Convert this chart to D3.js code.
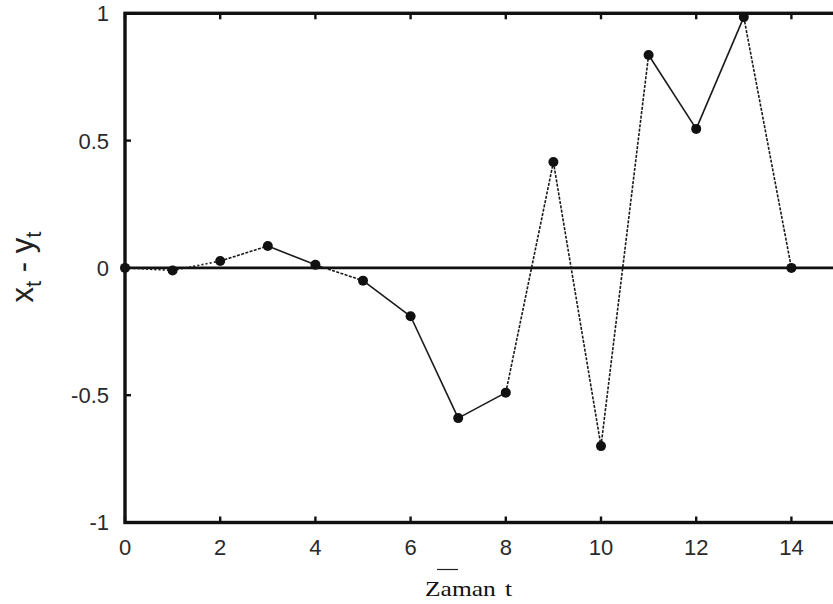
<!DOCTYPE html>
<html>
<head>
<meta charset="utf-8">
<script src="https://cdn.jsdelivr.net/npm/d3@7/dist/d3.min.js"></script>
<style>
  html, body { margin: 0; padding: 0; background: #fff; overflow: hidden; }
  svg { display: block; }
</style>
</head>
<body>
<script>
// Time steps and the difference x_t - y_t at each step
const times = [0, 1, 2, 3, 4, 5, 6, 7, 8, 9, 10, 11, 12, 13, 14];
const diffs = [0, -0.01, 0.027, 0.086, 0.012, -0.05, -0.19, -0.59, -0.49, 0.416, -0.70, 0.836, 0.546, 0.985, 0];
// Stroke style of each segment joining consecutive points
const segStyles = ["dot", "dot", "dash", "solid", "dash", "solid", "solid", "solid",
                   "dash", "dash", "dash", "solid", "solid", "dash"];
const xTicks = [0, 2, 4, 6, 8, 10, 12, 14];
const yTicks = [-1, -0.5, 0, 0.5, 1];

const W = 833, H = 604;
const svg = d3.select("body").append("svg").attr("width", W).attr("height", H);

const x = d3.scaleLinear().domain([0, 15]).range([125, 839]);
const y = d3.scaleLinear().domain([-1, 1]).range([522.5, 13.3]);

const ink = "#111";
const labelFont = "'Liberation Sans', Arial, Helvetica, sans-serif";

// Zero reference line
svg.append("line")
  .attr("x1", x(0)).attr("x2", x(15))
  .attr("y1", y(0)).attr("y2", y(0))
  .attr("stroke", ink).attr("stroke-width", 2.6);

// Series segments
const dashFor = { solid: null, dash: "3,1.4", dot: "2,2.2" };
const segs = d3.pairs(times.map((t, i) => ({ t, v: diffs[i] })))
  .map((p, i) => ({ a: p[0], b: p[1], s: segStyles[i] }));
svg.append("g").selectAll("line").data(segs).join("line")
  .attr("x1", d => x(d.a.t)).attr("y1", d => y(d.a.v))
  .attr("x2", d => x(d.b.t)).attr("y2", d => y(d.b.v))
  .attr("stroke", "#1a1a1a")
  .attr("stroke-width", 1.6)
  .attr("stroke-dasharray", d => dashFor[d.s]);

// Points
svg.append("g").selectAll("circle").data(times).join("circle")
  .attr("cx", d => x(d)).attr("cy", (d, i) => y(diffs[i]))
  .attr("r", 5).attr("fill", ink);

// Frame
svg.append("rect")
  .attr("x", x(0)).attr("y", y(1))
  .attr("width", x(15) - x(0)).attr("height", y(-1) - y(1))
  .attr("fill", "none").attr("stroke", ink)
  .attr("stroke-width", 3.4);

// Inward ticks on all sides
const tickLen = 6;
const tg = svg.append("g").attr("stroke", ink).attr("stroke-width", 2.4);
xTicks.forEach(t => {
  tg.append("line").attr("x1", x(t)).attr("x2", x(t)).attr("y1", y(-1)).attr("y2", y(-1) - tickLen);
  tg.append("line").attr("x1", x(t)).attr("x2", x(t)).attr("y1", y(1)).attr("y2", y(1) + tickLen);
});
yTicks.forEach(v => {
  tg.append("line").attr("x1", x(0)).attr("x2", x(0) + tickLen).attr("y1", y(v)).attr("y2", y(v));
  tg.append("line").attr("x1", x(15)).attr("x2", x(15) - tickLen).attr("y1", y(v)).attr("y2", y(v));
});

// Tick labels
svg.append("g").selectAll("text").data(xTicks).join("text")
  .attr("x", d => x(d)).attr("y", 555)
  .attr("text-anchor", "middle")
  .attr("font-family", labelFont).attr("font-size", 22).attr("fill", "#2a2a2a")
  .text(d => String(d));
svg.append("g").selectAll("text").data(yTicks).join("text")
  .attr("x", 109).attr("y", d => y(d))
  .attr("dy", "0.36em")
  .attr("text-anchor", "end")
  .attr("font-family", labelFont).attr("font-size", 22).attr("fill", "#2a2a2a")
  .text(d => String(d));

// Axis titles
const xt = svg.append("text")
  .attr("transform", "translate(425,596) scale(1.16,1)")
  .attr("font-family", "'Liberation Serif', 'Times New Roman', serif")
  .attr("font-size", 22).attr("fill", ink);
xt.append("tspan").text("Zaman");
xt.append("tspan").attr("dx", 8).text("t");
svg.append("line")
  .attr("x1", 437).attr("x2", 458).attr("y1", 569.5).attr("y2", 569.5)
  .attr("stroke", "#222").attr("stroke-width", 1.2);

const yt = svg.append("text")
  .attr("transform", "translate(33,267) rotate(-90)")
  .attr("text-anchor", "middle")
  .attr("font-family", labelFont).attr("font-size", 31).attr("fill", "#222");
yt.append("tspan").text("x");
yt.append("tspan").attr("dy", 8).attr("font-size", 22).text("t");
yt.append("tspan").attr("dy", -8).text(" - y");
yt.append("tspan").attr("dy", 8).attr("font-size", 22).text("t");
</script>
</body>
</html>
